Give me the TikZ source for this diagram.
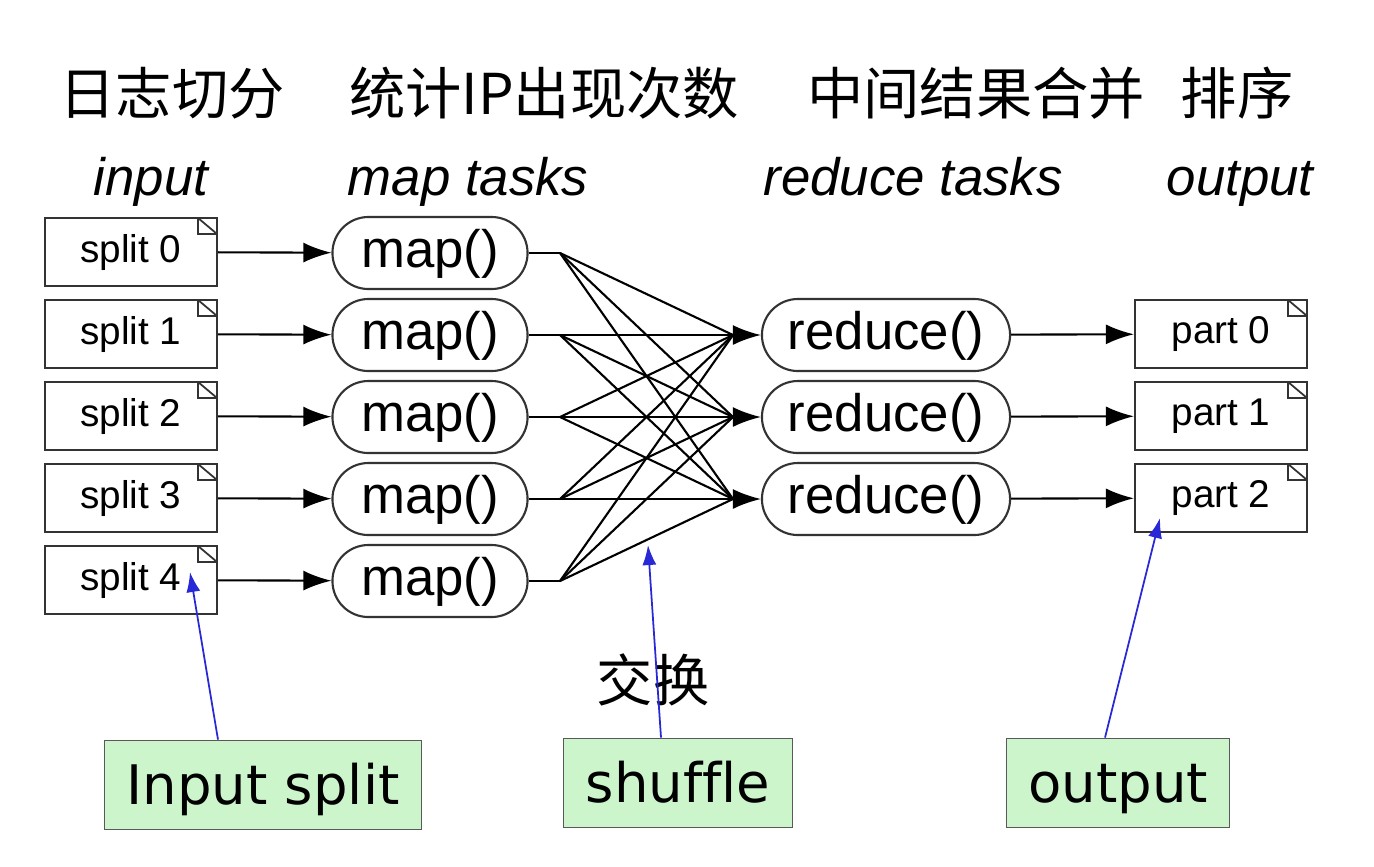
\documentclass[tikz,border=0pt]{standalone}
\usepackage{fontspec}
\setmainfont{Liberation Sans}
\newfontfamily\cjk{Noto Sans CJK SC}
\newfontfamily\tahoma[Ligatures=NoCommon]{DejaVu Sans}
\usetikzlibrary{arrows.meta}
\definecolor{notegreen}{RGB}{204,245,204}
\definecolor{hintblue}{RGB}{40,40,215}

\begin{document}
\begin{tikzpicture}[x=0.01cm, y=-0.01cm,
  docbox/.style={draw=black!80, line width=0.6pt, minimum width=1.72cm, minimum height=0.68cm,
    font=\fontsize{11}{13}\selectfont,
    path picture={\draw[line width=0.5pt] ([xshift=-1.9mm]path picture bounding box.north east) -- ++(0,-1.6mm)
      -- ([yshift=-1.6mm]path picture bounding box.north east)
      ([xshift=-1.9mm]path picture bounding box.north east) -- ([yshift=-1.6mm]path picture bounding box.north east);}},
  task/.style={draw=black!80, line width=0.6pt, rounded corners=3.6mm, minimum height=0.72cm,
    font=\fontsize{15}{18}\selectfont, text depth=0.5ex},
  notebox/.style={draw=black!65, fill=notegreen, line width=0.5pt, minimum height=0.89cm,
    font=\tahoma\fontsize{15.5}{18}\selectfont, text height=11pt, text depth=0pt},
  head/.style={font=\cjk\fontsize{16}{19}\selectfont},
  stage/.style={font=\itshape\fontsize{15}{18}\selectfont, anchor=base},
  flow/.style={line width=0.6pt, -{Latex[length=2.8mm,width=2mm]}},
  hint/.style={draw=hintblue, line width=0.5pt, -{Latex[length=2mm,width=1.4mm]}}]
\useasboundingbox (0,0) rectangle (1374,866);

% headings
\node[head] (h1) at (172,93) {日志切分};
\node[head] (h2) at (544,93) {统计IP出现次数};
\node[head] (h3) at (976,93) {中间结果合并};
\node[head] (h4) at (1237,93) {排序};
\node[stage] (t1) at (151,195) {input};
\node[stage] (t2) at (468,195) {map tasks};
\node[stage] (t3) at (913,195) {reduce tasks};
\node[stage] (t4) at (1240,195) {output};

% input splits
\node[docbox] (s0) at (131,252) {split 0};
\node[docbox] (s1) at (131,334) {split 1};
\node[docbox] (s2) at (131,416) {split 2};
\node[docbox] (s3) at (131,498) {split 3};
\node[docbox] (s4) at (131,580) {split 4};

% map tasks
\node[task, minimum width=1.95cm] (m0) at (430,253) {map()};
\node[task, minimum width=1.95cm] (m1) at (430,335) {map()};
\node[task, minimum width=1.95cm] (m2) at (430,417) {map()};
\node[task, minimum width=1.95cm] (m3) at (430,499) {map()};
\node[task, minimum width=1.95cm] (m4) at (430,581) {map()};

% reduce tasks
\node[task, minimum width=2.48cm] (r0) at (886,335) {reduce()};
\node[task, minimum width=2.48cm] (r1) at (886,417) {reduce()};
\node[task, minimum width=2.48cm] (r2) at (886,499) {reduce()};

% output parts
\node[docbox] (p0) at (1221,334) {part 0};
\node[docbox] (p1) at (1221,416) {part 1};
\node[docbox] (p2) at (1221,498) {part 2};

\draw[flow] (s0) -- (m0);
\draw[flow] (s1) -- (m1);
\draw[flow] (s2) -- (m2);
\draw[flow] (s3) -- (m3);
\draw[flow] (s4) -- (m4);

% shuffle
\coordinate (f0) at (560,253);
\coordinate (f1) at (560,335);
\coordinate (f2) at (560,417);
\coordinate (f3) at (560,499);
\coordinate (f4) at (560,581);
\coordinate (c0) at (733,335);
\coordinate (c1) at (733,417);
\coordinate (c2) at (733,499);
\foreach \i in {0,...,4} {
  \draw[line width=0.6pt] (m\i.east) -- (f\i);
  \foreach \j in {0,1,2}
    \draw[line width=0.6pt] (f\i) -- (c\j);
}
\draw[flow] (c0) -- (r0);
\draw[flow] (c1) -- (r1);
\draw[flow] (c2) -- (r2);

\draw[flow] (r0) -- (p0);
\draw[flow] (r1) -- (p1);
\draw[flow] (r2) -- (p2);

% notes
\node[head] (swap) at (653,680) {交换};
\node[notebox, minimum width=3.17cm] (n1) at (263,785) {Input split};
\node[notebox, minimum width=2.29cm] (n2) at (678,783) {shuffle};
\node[notebox, minimum width=2.23cm] (n3) at (1118,783) {output};
\coordinate (a1) at (190,572);
\coordinate (a2) at (648,545);
\coordinate (a3) at (1160,518);
\draw[hint] (n1.north -| 218,0) -- (a1);
\draw[hint] (n2.north -| 661,0) -- (a2);
\draw[hint] (n3.north -| 1105,0) -- (a3);
\end{tikzpicture}
\end{document}
